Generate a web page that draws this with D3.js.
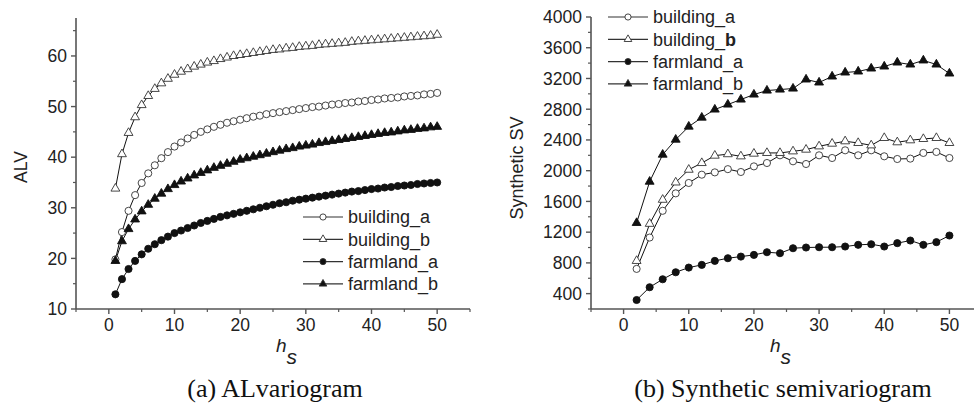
<!DOCTYPE html>
<html>
<head>
<meta charset="utf-8">
<script src="https://cdn.jsdelivr.net/npm/d3@7"></script>
<style>
    body { margin: 0; background: #fff; }
    svg { display: block; }
</style>
</head>
<body>
<div id="chart"></div>
<script>
// ---- data ----
const hsA = [1, 2, 3, 4, 5, 6, 7, 8, 9, 10, 11, 12, 13, 14, 15, 16, 17, 18, 19, 20,
    21, 22, 23, 24, 25, 26, 27, 28, 29, 30, 31, 32, 33, 34, 35, 36, 37, 38, 39, 40,
    41, 42, 43, 44, 45, 46, 47, 48, 49, 50];

const alvBuildingA = [19.8, 25.2, 29.4, 32.5, 34.9, 36.8, 38.4, 39.8, 41.0, 42.1,
    42.9, 43.7, 44.4, 45.0, 45.5, 46.0, 46.4, 46.8, 47.1, 47.4,
    47.7, 48.0, 48.2, 48.5, 48.7, 48.9, 49.1, 49.3, 49.5, 49.7,
    49.9, 50.0, 50.2, 50.4, 50.5, 50.7, 50.8, 51.0, 51.1, 51.3,
    51.4, 51.6, 51.7, 51.8, 52.0, 52.1, 52.2, 52.4, 52.5, 52.7];
const alvBuildingB = [33.8, 40.6, 44.8, 47.9, 50.3, 52.1, 53.5, 54.6, 55.5, 56.3,
    56.9, 57.4, 57.9, 58.3, 58.7, 59.0, 59.4, 59.7, 60.0, 60.2,
    60.4, 60.6, 60.8, 61.0, 61.2, 61.3, 61.5, 61.6, 61.8, 61.9,
    62.0, 62.2, 62.3, 62.4, 62.5, 62.6, 62.8, 62.9, 63.0, 63.1,
    63.2, 63.3, 63.4, 63.5, 63.6, 63.7, 63.8, 63.9, 64.0, 64.2];
const alvFarmlandA = [12.9, 15.9, 17.9, 19.5, 20.8, 21.9, 22.8, 23.6, 24.3, 25.0,
    25.5, 26.0, 26.5, 27.0, 27.4, 27.8, 28.2, 28.5, 28.8, 29.1,
    29.4, 29.7, 30.0, 30.3, 30.6, 30.9, 31.1, 31.4, 31.6, 31.8,
    32.0, 32.2, 32.4, 32.6, 32.8, 33.0, 33.2, 33.3, 33.5, 33.7,
    33.8, 34.0, 34.1, 34.3, 34.4, 34.5, 34.7, 34.8, 34.9, 35.0];
const alvFarmlandB = [19.5, 23.4, 25.8, 27.7, 29.3, 30.6, 31.8, 32.8, 33.7, 34.5,
    35.2, 35.8, 36.4, 36.9, 37.4, 37.9, 38.3, 38.7, 39.1, 39.5,
    39.8, 40.1, 40.4, 40.7, 41.0, 41.3, 41.6, 41.8, 42.1, 42.3,
    42.5, 42.8, 43.0, 43.2, 43.4, 43.6, 43.8, 44.0, 44.2, 44.4,
    44.6, 44.8, 44.9, 45.1, 45.3, 45.4, 45.6, 45.7, 45.9, 46.0];

const hsB = [2, 4, 6, 8, 10, 12, 14, 16, 18, 20, 22, 24, 26, 28, 30, 32, 34, 36, 38, 40,
    42, 44, 46, 48, 50];

const svBuildingA = [722, 1130, 1478, 1705, 1840, 1948, 1978, 2020, 1983, 2056,
    2100, 2200, 2122, 2087, 2200, 2165, 2265, 2200, 2265, 2187,
    2152, 2157, 2231, 2244, 2165];
const svBuildingB = [826, 1309, 1622, 1847, 2013, 2100, 2196, 2215, 2187, 2222,
    2231, 2231, 2252, 2274, 2317, 2352, 2383, 2361, 2330, 2426,
    2370, 2396, 2413, 2426, 2361];
const svFarmlandA = [317, 483, 587, 678, 739, 774, 826, 861, 882, 904,
    939, 926, 991, 1000, 1004, 1004, 1013, 1035, 1043, 1013,
    1057, 1091, 1035, 1070, 1156];
const svFarmlandB = [1320, 1857, 2209, 2404, 2574, 2691, 2796, 2861, 2926, 2991,
    3043, 3056, 3069, 3187, 3148, 3226, 3278, 3291, 3330, 3356,
    3408, 3382, 3435, 3382, 3265];

const seriesNames = ["building_a", "building_b", "farmland_a", "farmland_b"];

const xTicks = [0, 10, 20, 30, 40, 50];
const xMinor = [-5, 5, 15, 25, 35, 45, 55];
const alvTicks = [10, 20, 30, 40, 50, 60];
const alvMinor = [15, 25, 35, 45, 55, 65];
const svTicks = [400, 800, 1200, 1600, 2000, 2400, 2800, 3200, 3600, 4000];
const svMinor = [200, 600, 1000, 1400, 1800, 2200, 2600, 3000, 3400, 3800];

// ---- drawing ----
const W = 974, H = 408;
const axisColor = "#555";
const font = "'Liberation Sans', Arial, sans-serif";

const svg = d3.select("#chart").append("svg")
    .attr("width", W)
    .attr("height", H);

// marker styles per series: circle/triangle, open/filled
const markerStyle = {
    "building_a": {shape: d3.symbolCircle, size: 40, fill: "#fff"},
    "building_b": {shape: d3.symbolTriangle, size: 34, fill: "#fff"},
    "farmland_a": {shape: d3.symbolCircle, size: 40, fill: "#111"},
    "farmland_b": {shape: d3.symbolTriangle, size: 34, fill: "#111"},
};

function drawAxes(g, x, y, yTicks, yMinor, x0, x1, y0, y1) {
    // y axis
    g.append("line")
        .attr("x1", x0).attr("x2", x0)
        .attr("y1", y0).attr("y2", y1)
        .attr("stroke", axisColor).attr("stroke-width", 1.6);
    g.selectAll(".ytick").data(yTicks).join("line")
        .attr("x1", x0 - 5).attr("x2", x0)
        .attr("y1", (d) => y(d)).attr("y2", (d) => y(d))
        .attr("stroke", axisColor).attr("stroke-width", 1.4);
    g.selectAll(".yminor").data(yMinor).join("line")
        .attr("x1", x0 - 3).attr("x2", x0)
        .attr("y1", (d) => y(d)).attr("y2", (d) => y(d))
        .attr("stroke", axisColor).attr("stroke-width", 1.2);
    g.selectAll(".ylab").data(yTicks).join("text")
        .attr("x", x0 - 9)
        .attr("y", (d) => y(d))
        .attr("dy", "0.36em")
        .attr("text-anchor", "end")
        .attr("font-family", font)
        .attr("font-size", "17.5px")
        .attr("fill", "#222")
        .text((d) => d);

    // x axis
    g.append("line")
        .attr("x1", x0).attr("x2", x1)
        .attr("y1", y0).attr("y2", y0)
        .attr("stroke", axisColor).attr("stroke-width", 1.6);
    g.selectAll(".xtick").data(xTicks).join("line")
        .attr("x1", (d) => x(d)).attr("x2", (d) => x(d))
        .attr("y1", y0).attr("y2", y0 + 5)
        .attr("stroke", axisColor).attr("stroke-width", 1.4);
    g.selectAll(".xminor").data(xMinor).join("line")
        .attr("x1", (d) => x(d)).attr("x2", (d) => x(d))
        .attr("y1", y0).attr("y2", y0 + 3)
        .attr("stroke", axisColor).attr("stroke-width", 1.2);
    g.selectAll(".xlab").data(xTicks).join("text")
        .attr("x", (d) => x(d))
        .attr("y", y0 + 22)
        .attr("text-anchor", "middle")
        .attr("font-family", font)
        .attr("font-size", "17.5px")
        .attr("fill", "#222")
        .text((d) => d);
}

function drawSeries(g, x, y, xs, series) {
    series.forEach((s) => {
        const pts = xs.map((v, i) => [v, s.values[i]]);
        g.append("path")
            .datum(pts)
            .attr("fill", "none")
            .attr("stroke", "#111")
            .attr("stroke-width", 1)
            .attr("d", d3.line().x((d) => x(d[0])).y((d) => y(d[1])));
    });
    series.forEach((s) => {
        const st = markerStyle[s.name];
        const pts = xs.map((v, i) => [v, s.values[i]]);
        g.selectAll(null).data(pts).join("path")
            .attr("transform", (d) => `translate(${x(d[0])},${y(d[1])})`)
            .attr("d", d3.symbol().type(st.shape).size(st.size))
            .attr("fill", st.fill)
            .attr("stroke", st.fill === "#fff" ? "#333" : "#111")
            .attr("stroke-width", 0.9);
    });
}

function drawLegend(g, lx, ly, boldB) {
    const rows = g.selectAll(".leg").data(seriesNames).join("g")
        .attr("transform", (d, i) => `translate(${lx},${ly + i * 22.3})`);
    rows.append("line")
        .attr("x1", 0).attr("x2", 40)
        .attr("stroke", "#333").attr("stroke-width", 1.2);
    rows.append("path")
        .attr("transform", "translate(20,0)")
        .attr("d", (d) => d3.symbol().type(markerStyle[d].shape).size(markerStyle[d].size * 0.75)())
        .attr("fill", (d) => markerStyle[d].fill)
        .attr("stroke", "#333")
        .attr("stroke-width", 0.9);
    const txt = rows.append("text")
        .attr("x", 45)
        .attr("dy", "0.35em")
        .attr("font-family", font)
        .attr("font-size", "18px")
        .attr("fill", "#222");
    txt.each(function (d) {
        const t = d3.select(this);
        if (boldB && d === "building_b") {
            t.append("tspan").text("building_");
            t.append("tspan").attr("font-weight", "bold").text("b");
        } else {
            t.text(d);
        }
    });
}

function drawHs(g, cx, y) {
    const t = g.append("text")
        .attr("x", cx)
        .attr("y", y)
        .attr("font-family", font)
        .attr("font-style", "italic")
        .attr("fill", "#222");
    t.append("tspan").attr("font-size", "19px").text("h");
    t.append("tspan").attr("font-size", "21px").attr("dy", 12).text("s");
}

// ---- (a) ALvariogram ----
const xA = d3.scaleLinear().domain([-5, 55]).range([76, 470]);
const yA = d3.scaleLinear().domain([10, 67.5]).range([309, 18]);
const gA = svg.append("g");

drawAxes(gA, xA, yA, alvTicks, alvMinor, 76, 470, 309, 18);
drawSeries(gA, xA, yA, hsA, [
    {name: "building_a", values: alvBuildingA},
    {name: "building_b", values: alvBuildingB},
    {name: "farmland_a", values: alvFarmlandA},
    {name: "farmland_b", values: alvFarmlandB},
]);
drawLegend(gA, 303, 217, false);

gA.append("text")
    .attr("transform", "translate(27,167) rotate(-90)")
    .attr("text-anchor", "middle")
    .attr("font-family", font)
    .attr("font-size", "17.5px")
    .attr("fill", "#222")
    .text("ALV");
drawHs(gA, 276, 352);

gA.append("text")
    .attr("x", 275)
    .attr("y", 397)
    .attr("text-anchor", "middle")
    .attr("font-family", "'Liberation Serif', 'Times New Roman', serif")
    .attr("font-size", "26px")
    .attr("fill", "#111")
    .text("(a) ALvariogram");

// ---- (b) Synthetic semivariogram ----
const xB = d3.scaleLinear().domain([-5, 55]).range([591, 982]);
const yB = d3.scaleLinear().domain([200, 4000]).range([309, 17]);
const gB = svg.append("g");

drawAxes(gB, xB, yB, svTicks, svMinor, 591, 982, 309, 17);
drawSeries(gB, xB, yB, hsB, [
    {name: "building_a", values: svBuildingA},
    {name: "building_b", values: svBuildingB},
    {name: "farmland_a", values: svFarmlandA},
    {name: "farmland_b", values: svFarmlandB},
]);
drawLegend(gB, 608, 17, true);

gB.append("text")
    .attr("transform", "translate(523,168) rotate(-90)")
    .attr("text-anchor", "middle")
    .attr("font-family", font)
    .attr("font-size", "18px")
    .attr("fill", "#222")
    .text("Synthetic SV");
drawHs(gB, 770, 352);

gB.append("text")
    .attr("x", 783)
    .attr("y", 397)
    .attr("text-anchor", "middle")
    .attr("font-family", "'Liberation Serif', 'Times New Roman', serif")
    .attr("font-size", "26px")
    .attr("fill", "#111")
    .text("(b) Synthetic semivariogram");
</script>
</body>
</html>
